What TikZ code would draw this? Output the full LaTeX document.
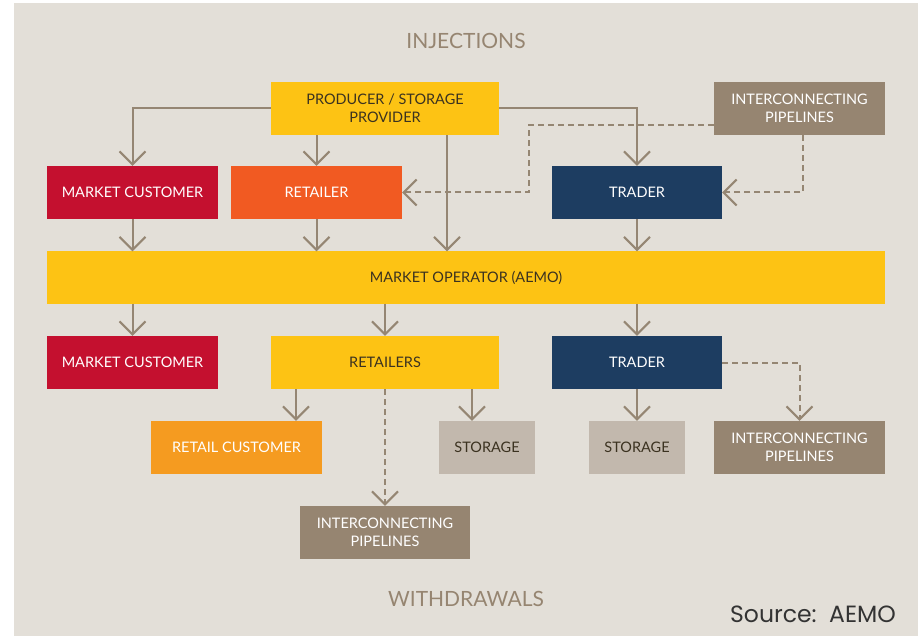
\documentclass[tikz,border=0pt]{standalone}
\usepackage{fontspec}
\usepackage{tikz}
\usetikzlibrary{arrows.meta}
\usetikzlibrary{positioning}
\setmainfont{Lato}
\newfontfamily\srcfont{Poppins}
\definecolor{GAS-BG}{HTML}{E3DFD8}
\definecolor{GAS-YELLOW}{HTML}{FDC314}
\definecolor{GAS-RED}{HTML}{C4102F}
\definecolor{GAS-ORANGE}{HTML}{F15A22}
\definecolor{GAS-LIGHTORANGE}{HTML}{F59B20}
\definecolor{GAS-NAVY}{HTML}{1D3D61}
\definecolor{GAS-TAUPE}{HTML}{968571}
\definecolor{GAS-STONE}{HTML}{C2B8AD}
\definecolor{GAS-LINE}{HTML}{958673}
\definecolor{GAS-DARK}{HTML}{3B3220}

\begin{document}
\begin{tikzpicture}[x=1pt,y=-1pt,every path/.style={>={Straight Barb[length=13pt,width=26pt]}},
	box/.style={inner sep=0pt,minimum height=53pt,align=center,font=\fontsize{14.5}{18}\selectfont,text=white},
	flow/.style={->,draw=GAS-LINE,line width=2pt},
	dflow/.style={->,draw=GAS-LINE,line width=2pt,dash pattern=on 6pt off 4pt}]
			% draw background
			\useasboundingbox (0,0) rectangle (918,636);
			\fill[white] (0,0) rectangle (918,636);
			\fill[GAS-BG] (14,3) rectangle (918,636);

			% draw titles
			\node (T_inj) at (466,41) [text=GAS-TAUPE,font=\fontsize{21}{24}\selectfont] {INJECTIONS};
			\node (T_wd) at (466,599) [text=GAS-TAUPE,font=\fontsize{21}{24}\selectfont] {WITHDRAWALS};
			\node (T_src) at (813,614) [text=black!80,font=\srcfont\fontsize{23.5}{26}\selectfont] {Source:\ \ AEMO};

			% draw nodes (injections)
			\node (P_prod) at (385,108.5) [box,minimum width=228pt,fill=GAS-YELLOW,text=GAS-DARK] {PRODUCER / STORAGE\\PROVIDER};
			\node (I_top) at (799.5,108.5) [box,minimum width=171pt,fill=GAS-TAUPE] {INTERCONNECTING\\PIPELINES};
			\node (C_mkt1) at (132.5,192.5) [box,minimum width=171pt,fill=GAS-RED] {MARKET CUSTOMER};
			\node (R_ret) at (316.5,192.5) [box,minimum width=171pt,fill=GAS-ORANGE] {RETAILER};
			\node (T_trd1) at (637,192.5) [box,minimum width=170pt,fill=GAS-NAVY] {TRADER};

			% draw market operator
			\node (O_mkt) at (466,277.5) [box,minimum width=838pt,minimum height=52pt,fill=GAS-YELLOW,text=GAS-DARK] {MARKET OPERATOR (AEMO)};

			% draw nodes (withdrawals)
			\node (C_mkt2) at (132.5,362.5) [box,minimum width=171pt,fill=GAS-RED] {MARKET CUSTOMER};
			\node (R_rets) at (385,362.5) [box,minimum width=228pt,fill=GAS-YELLOW,text=GAS-DARK] {RETAILERS};
			\node (T_trd2) at (637,362.5) [box,minimum width=170pt,fill=GAS-NAVY] {TRADER};
			\node (C_retail) at (236.5,447.5) [box,minimum width=171pt,fill=GAS-LIGHTORANGE] {RETAIL CUSTOMER};
			\node (S_stor1) at (487,447.5) [box,minimum width=96pt,fill=GAS-STONE,text=GAS-DARK] {STORAGE};
			\node (S_stor2) at (637,447.5) [box,minimum width=96pt,fill=GAS-STONE,text=GAS-DARK] {STORAGE};
			\node (I_right) at (799.5,447.5) [box,minimum width=171pt,fill=GAS-TAUPE] {INTERCONNECTING\\PIPELINES};
			\node (I_bot) at (385,532.5) [box,minimum width=170pt,fill=GAS-TAUPE] {INTERCONNECTING\\PIPELINES};

			% draw arrows (injections)
			\draw[flow] (P_prod.west) -| (C_mkt1.north);
			\draw[flow] (P_prod.south -| R_ret.north) to (R_ret.north);
			\draw[flow] (P_prod.south -| 447,0) to (O_mkt.north -| 447,0);
			\draw[flow] (P_prod.east) -| (T_trd1.north);
			\draw[dflow] (I_top.west |- 0,125) -- (529,125) |- (R_ret.east);
			\draw[dflow] (I_top.south -| 803,0) |- (T_trd1.east);

			% draw arrows (into market operator)
			\draw[flow] (C_mkt1.south) to (O_mkt.north -| C_mkt1.south);
			\draw[flow] (R_ret.south) to (O_mkt.north -| R_ret.south);
			\draw[flow] (T_trd1.south) to (O_mkt.north -| T_trd1.south);

			% draw arrows (withdrawals)
			\draw[flow] (O_mkt.south -| C_mkt2.north) to (C_mkt2.north);
			\draw[flow] (O_mkt.south -| R_rets.north) to (R_rets.north);
			\draw[flow] (O_mkt.south -| T_trd2.north) to (T_trd2.north);
			\draw[flow] (R_rets.south -| 296,0) to (C_retail.north -| 296,0);
			\draw[flow] (R_rets.south -| 472,0) to (S_stor1.north -| 472,0);
			\draw[dflow] (R_rets.south) to (I_bot.north);
			\draw[flow] (T_trd2.south) to (S_stor2.north);
			\draw[dflow] (T_trd2.east) -| (I_right.north);
		\end{tikzpicture}
\end{document}
